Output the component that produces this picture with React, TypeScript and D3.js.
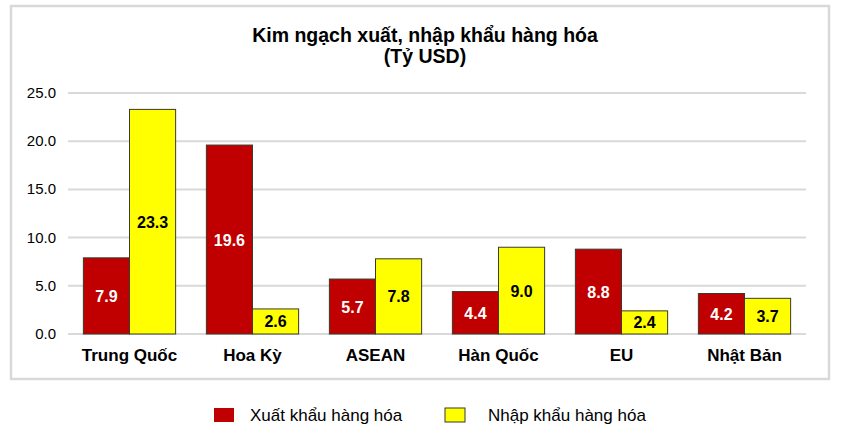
import React from "react";
import * as d3 from "d3";

const categories = ["Trung Quốc", "Hoa Kỳ", "ASEAN", "Hàn Quốc", "EU", "Nhật Bản"];
const exportValues = [7.9, 19.6, 5.7, 4.4, 8.8, 4.2];
const importValues = [23.3, 2.6, 7.8, 9.0, 2.4, 3.7];
const yTicks = [0, 5, 10, 15, 20, 25];
const seriesNames = ["Xuất khẩu hàng hóa", "Nhập khẩu hàng hóa"];
const colors = ["#C00000", "#FFFF00"];
const labelColors = ["#FFFFFF", "#000000"];

export default function App() {
  const W = 868, H = 434;
  const left = 68, right = 806, top = 93, bottom = 334;
  const x = d3.scaleBand<string>().domain(categories).range([left, right]).paddingInner(0.25).paddingOuter(0.125);
  const y = d3.scaleLinear().domain([0, 25]).range([bottom, top]);
  const inner = d3.scaleBand<number>().domain([0, 1]).range([0, x.bandwidth()]);
  const font = "'Liberation Sans', Arial, sans-serif";
  const series = [exportValues, importValues];
  return (
    <svg width={W} height={H} style={{ position: "absolute", left: 0, top: 0 }} fontFamily={font}>
      <rect x={0} y={0} width={W} height={H} fill="#fff" />
      <rect x={11} y={6} width={818} height={373} fill="#fff" stroke="#d9d9d9" strokeWidth={2.5} />
      <text x={425} y={42} textAnchor="middle" fontWeight="bold" fontSize={19.5}>Kim ngạch xuất, nhập khẩu hàng hóa</text>
      <text x={425} y={63} textAnchor="middle" fontWeight="bold" fontSize={19.5}>(Tỷ USD)</text>
      {yTicks.map((t) => (
        <g key={t}>
          <line x1={left} x2={right} y1={y(t)} y2={y(t)} stroke="#d9d9d9" strokeWidth={2} />
          <text x={56} y={y(t) + 5} textAnchor="end" fontSize={15}>{t.toFixed(1)}</text>
        </g>
      ))}
      {series.map((vals, s) =>
        vals.map((v, i) => {
          const bx = (x(categories[i]) as number) + (inner(s) as number);
          const bw = inner.bandwidth();
          const by = y(v);
          return (
            <g key={`${s}-${i}`}>
              <rect x={bx} y={by} width={bw} height={bottom - by} fill={colors[s]} stroke="#3a3a2a" strokeWidth={1} />
              <text x={bx + bw / 2} y={(by + bottom) / 2 + 6} textAnchor="middle" fontWeight="bold" fontSize={16} fill={labelColors[s]}>{v.toFixed(1)}</text>
            </g>
          );
        })
      )}
      {categories.map((c) => (
        <text key={c} x={(x(c) as number) + x.bandwidth() / 2} y={361} textAnchor="middle" fontWeight="bold" fontSize={17}>{c}</text>
      ))}
      <rect x={214} y={408} width={20} height={14} fill={colors[0]} />
      <text x={250} y={421} fontSize={17}>{seriesNames[0]}</text>
      <rect x={445} y={408} width={20} height={14} fill={colors[1]} stroke="#3a3a2a" strokeWidth={1} />
      <text x={488} y={421} fontSize={17}>{seriesNames[1]}</text>
    </svg>
  );
}
